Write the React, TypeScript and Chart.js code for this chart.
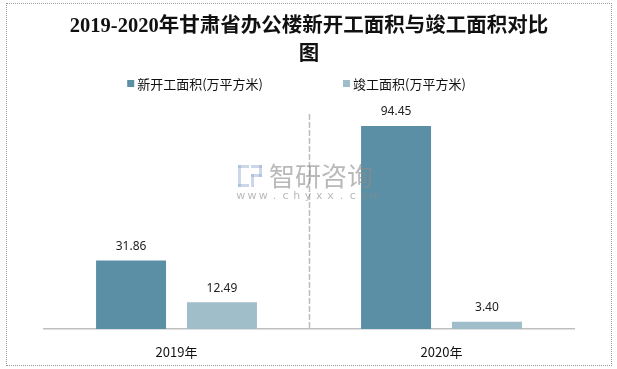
import React, { useEffect, useRef } from "react";
import { Chart, registerables } from "chart.js";

Chart.register(...registerables);

const categories = ["2019年", "2020年"];
const seriesNames = ["新开工面积(万平方米)", "竣工面积(万平方米)"];
const newStarted = [31.86, 94.45];
const completed = [12.49, 3.4];
const colors = ["#5B8FA6", "#A0BDCA"];
const titleLines = ["2019-2020年甘肃省办公楼新开工面积与竣工面积对比", "图"];
const watermarkMain = "智研咨询";
const watermarkSub = "www.chyxx.com";

const SANS = "'Noto Sans CJK SC', 'Noto Sans', sans-serif";

const extrasPlugin = {
  id: "extras",
  beforeDatasetsDraw(chart: any) {
    const { ctx, chartArea, scales } = chart;
    const x = scales.x;
    const mid = (x.getPixelForValue(0) + x.getPixelForValue(1)) / 2;
    ctx.save();
    ctx.strokeStyle = "#BDBDBD";
    ctx.lineWidth = 1.5;
    ctx.setLineDash([6, 2]);
    ctx.beginPath();
    ctx.moveTo(Math.round(mid) + 0.5, chartArea.top);
    ctx.lineTo(Math.round(mid) + 0.5, chartArea.bottom);
    ctx.stroke();
    ctx.restore();
  },
  afterDatasetsDraw(chart: any) {
    const { ctx, chartArea } = chart;
    // data labels
    ctx.save();
    ctx.font = "12px 'Noto Sans', 'DejaVu Sans', sans-serif";
    ctx.fillStyle = "#222";
    ctx.textAlign = "center";
    ctx.textBaseline = "middle";
    chart.data.datasets.forEach((ds: any, i: number) => {
      const meta = chart.getDatasetMeta(i);
      meta.data.forEach((bar: any, j: number) => {
        ctx.fillText(Number(ds.data[j]).toFixed(2), bar.x, bar.y - 14);
      });
    });
    ctx.restore();

    // watermark
    const cx = (chartArea.left + chartArea.right) / 2;
    const cy = chartArea.top + 62;
    ctx.save();
    ctx.globalAlpha = 0.45;
    ctx.fillStyle = "#8FA8D0";
    const lx = cx - 71;
    ctx.fillRect(lx, cy - 11, 11, 3);
    ctx.fillRect(lx, cy - 11, 3, 22);
    ctx.fillRect(lx, cy + 8, 11, 3);
    ctx.fillRect(lx + 13, cy - 11, 11, 3);
    ctx.fillRect(lx + 21, cy - 11, 3, 12);
    ctx.fillRect(lx + 13, cy - 2, 11, 3);
    ctx.fillRect(lx + 13, cy - 2, 3, 13);
    ctx.globalAlpha = 0.6;
    ctx.fillStyle = "#8A8A8A";
    ctx.font = "26px " + SANS;
    ctx.textAlign = "left";
    ctx.textBaseline = "middle";
    ctx.fillText(watermarkMain, cx - 40, cy);
    ctx.font = "11px 'DejaVu Sans', sans-serif";
    ctx.textAlign = "center";
    const chars = watermarkSub.split("");
    const step = 11.2;
    const start = cx - ((chars.length - 1) * step) / 2 - 1;
    chars.forEach((c, k) => ctx.fillText(c, start + k * step, cy + 20));
    ctx.restore();

    // legend
    ctx.save();
    ctx.font = "13px " + SANS;
    ctx.textBaseline = "middle";
    ctx.textAlign = "left";
    const box = 7;
    const gapText = 3;
    const gapItems = 80;
    const widths = chart.data.datasets.map((ds: any) => box + gapText + ctx.measureText(ds.label).width);
    const total = widths.reduce((a: number, b: number) => a + b, 0) + gapItems * (widths.length - 1);
    let xx = chart.width / 2 - total / 2 - 12;
    const ly = chartArea.top - 30;
    chart.data.datasets.forEach((ds: any, i: number) => {
      ctx.fillStyle = ds.backgroundColor;
      ctx.fillRect(xx, ly - 4, box, box);
      ctx.fillStyle = "#111";
      ctx.fillText(ds.label, xx + box + gapText, ly);
      xx += widths[i] + gapItems;
    });
    ctx.restore();
  },
};

export default function App() {
  const ref = useRef<HTMLCanvasElement>(null);
  useEffect(() => {
    if (!ref.current) return;
    const chart = new Chart(ref.current, {
      type: "bar",
      data: {
        labels: categories,
        datasets: [
          { label: seriesNames[0], data: newStarted, backgroundColor: colors[0] },
          { label: seriesNames[1], data: completed, backgroundColor: colors[1] },
        ],
      },
      options: {
        responsive: false,
        animation: false,
        devicePixelRatio: 1,
        layout: { padding: { left: 44, right: 43, top: 0, bottom: 9 } },
        datasets: { bar: { categoryPercentage: 0.686, barPercentage: 0.77 } },
        plugins: {
          legend: { display: false },
          tooltip: { enabled: false },
          title: {
            display: true,
            text: titleLines,
            color: "#111",
            font: { family: "'Liberation Serif', 'Noto Sans CJK SC', serif", size: 20.5, weight: "bold", lineHeight: 28 / 20.5 },
            padding: { top: 13, bottom: 45 },
          },
        },
        scales: {
          x: {
            grid: { display: false, drawTicks: false },
            border: { display: true, color: "#BFBFBF", width: 1.5 },
            ticks: { color: "#111", font: { family: SANS, size: 13 }, padding: 15 },
            afterFit: (scale: any) => {
              scale.height = 31;
            },
          },
          y: { display: false, min: 0, max: 100 },
        },
      },
      plugins: [extrasPlugin],
    });
    return () => chart.destroy();
  }, []);
  return (
    <div style={{ position: "absolute", left: 0, top: 0, width: 617, height: 369, background: "#fff" }}>
      <canvas ref={ref} width={617} height={369} style={{ position: "absolute", left: 0, top: 0 }} />
      <div
        style={{
          position: "absolute",
          left: 6,
          top: 3,
          width: 604,
          height: 361,
          border: "1px dotted #9A9A9A",
          pointerEvents: "none",
        }}
      />
    </div>
  );
}
